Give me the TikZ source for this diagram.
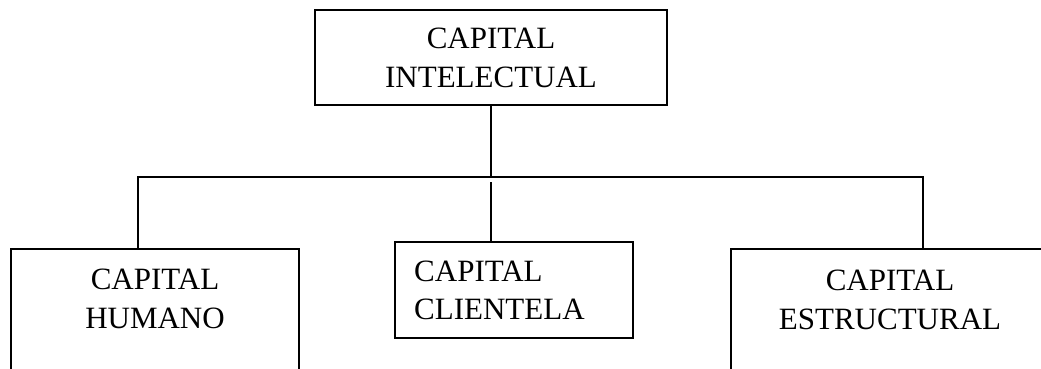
\documentclass[tikz,border=0pt]{standalone}
\usepackage{fontspec}
\setmainfont{Liberation Serif}
\begin{document}
\begin{tikzpicture}[x=1pt,y=1pt,
  box/.style={draw=black,line width=1.5pt,fill=white,inner sep=0pt},
  lbl/.style={inner sep=0pt,font=\fontsize{31}{38.5}\selectfont},
  conn/.style={draw=black,line width=1.5pt}]
\useasboundingbox (0,0) rectangle (1041,368);
\clip (0,0) rectangle (1041,368);
% boxes
\node[box,minimum width=352pt,minimum height=95pt] (top) at (491,310.5) {};
\node[box,minimum width=288pt,minimum height=139pt] (hb) at (155,49.5) {};
\node[box,minimum width=238pt,minimum height=96pt] (cb) at (514,78) {};
\node[box,minimum width=330pt,minimum height=139pt] (sb) at (896,49.5) {};
% labels
\node[lbl,align=center] (ttop) at (491,310) {CAPITAL\\INTELECTUAL};
\node[lbl,align=center] (thb) at (155,69) {CAPITAL\\HUMANO};
\node[lbl,align=left,anchor=west] (tcb) at (414,77.5) {CAPITAL\\CLIENTELA};
\node[lbl,align=center] (tsb) at (890,68) {CAPITAL\\ESTRUCTURAL};
% connectors
\coordinate (jl) at (138,191);
\coordinate (jr) at (923,191);
\coordinate (jm) at (491,186);
\draw[conn] (top.south) -- (top.south |- jl);
\draw[conn] (jl |- hb.north) -- (jl) -- (jr) -- (jr |- sb.north);
\draw[conn] (jm) -- (jm |- cb.north);
\end{tikzpicture}
\end{document}
